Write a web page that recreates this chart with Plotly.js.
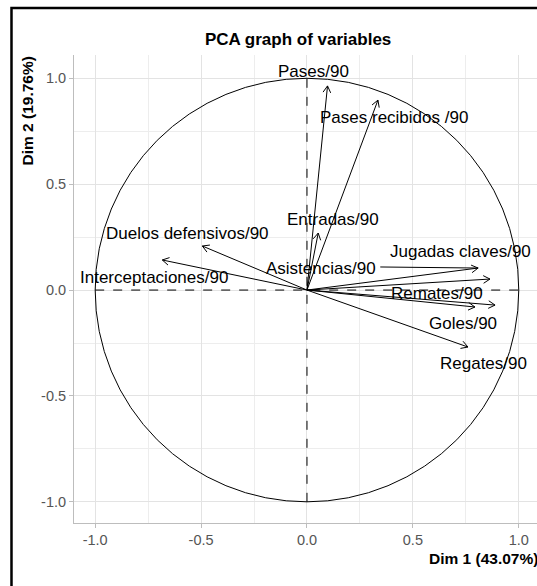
<!DOCTYPE html>
<html>
<head>
<meta charset="utf-8">
<script src="https://cdn.plot.ly/plotly-3.0.1.min.js"></script>
<style>
  html, body { margin: 0; padding: 0; background: #ffffff; }
  #chart { width: 537px; height: 586px; }
</style>
</head>
<body>
<div id="chart"></div>
<script>
// Variables and their coordinates on Dim 1 / Dim 2
const variables = ['Pases/90', 'Pases recibidos /90', 'Entradas/90', 'Asistencias/90', 'Jugadas claves/90',
                   'Remates/90', 'Goles/90', 'Regates/90', 'Duelos defensivos/90', 'Interceptaciones/90'];
const dim1 = [0.097, 0.335, 0.053, 0.808, 0.864, 0.793, 0.888, 0.760, -0.494, -0.683];
const dim2 = [0.964, 0.897, 0.269, 0.104, 0.052, -0.080, -0.071, -0.269, 0.208, 0.142];
// Repelled label positions (data units)
const labelX = [0.030, 0.409, 0.124, 0.067, 0.724, 0.612, 0.735, 0.832, -0.564, -0.720];
const labelY = [1.030, 0.817, 0.331, 0.104, 0.180, -0.014, -0.156, -0.345, 0.269, 0.061];
// Repel segment from the "Asistencias/90" label to its point
const repelFrom = {index: 3, x: 0.346, y: 0.109};
const tickVals = [-1.0, -0.5, 0.0, 0.5, 1.0];
const tickText = ['-1.0', '-0.5', '0.0', '0.5', '1.0'];

const FONT = 'Liberation Sans, Arial, sans-serif';

// arrows: shaft + open head
const ax = [], ay = [];
const headLen = 0.036, headAng = Math.PI / 6;
for (let i = 0; i < variables.length; i++) {
  const tx = dim1[i], ty = dim2[i];
  const th = Math.atan2(ty, tx);
  ax.push(0, tx, null);
  ay.push(0, ty, null);
  ax.push(tx - headLen * Math.cos(th - headAng), tx, tx - headLen * Math.cos(th + headAng), null);
  ay.push(ty - headLen * Math.sin(th - headAng), ty, ty - headLen * Math.sin(th + headAng), null);
}

const traces = [
  {
    type: 'scatter', mode: 'lines', x: ax, y: ay,
    line: {color: '#000000', width: 1}, hoverinfo: 'skip', showlegend: false
  },
  {
    type: 'scatter', mode: 'lines',
    x: [repelFrom.x, dim1[repelFrom.index]], y: [repelFrom.y, dim2[repelFrom.index]],
    line: {color: '#000000', width: 1}, hoverinfo: 'skip', showlegend: false
  }
];

const annotations = variables.map((v, i) => ({
  x: labelX[i], y: labelY[i], xref: 'x', yref: 'y', text: v, showarrow: false,
  font: {family: FONT, size: 17, color: '#000000'}, xanchor: 'center', yanchor: 'middle'
}));

annotations.push({
  xref: 'paper', yref: 'paper', x: -0.1015, y: 1.0, xanchor: 'center', yanchor: 'top',
  text: '<b>Dim 2 (19.76%)</b>', textangle: -90, showarrow: false,
  font: {family: FONT, size: 15.5, color: '#000000'}
});
annotations.push({
  xref: 'paper', yref: 'paper', x: 1.006, y: -0.0748, xanchor: 'right', yanchor: 'middle',
  text: '<b>Dim 1 (43.07%)</b>', showarrow: false,
  font: {family: FONT, size: 15.5, color: '#000000'}
});

const axisCommon = {
  tickvals: tickVals, ticktext: tickText,
  showgrid: true, gridcolor: '#E3E3E3', gridwidth: 1,
  minor: {dtick: 0.25, showgrid: true, gridcolor: '#EDEDED', gridwidth: 1},
  zeroline: false, showline: true, linecolor: '#BDBDBD', linewidth: 1,
  ticks: 'outside', ticklen: 4, tickcolor: '#BDBDBD', tickwidth: 1,
  tickfont: {family: FONT, size: 14.5, color: '#555555'},
  fixedrange: true
};

const layout = {
  width: 537, height: 586,
  margin: {l: 74, r: 0, t: 55, b: 63},
  paper_bgcolor: '#ffffff', plot_bgcolor: '#ffffff',
  title: {
    text: '<b>PCA graph of variables</b>', xref: 'paper', x: 0.484, xanchor: 'center',
    yref: 'container', y: 1 - 39 / 586, yanchor: 'middle',
    font: {family: FONT, size: 17, color: '#000000'}
  },
  xaxis: Object.assign({}, axisCommon, {range: [-1.1, 1.086]}),
  yaxis: Object.assign({}, axisCommon, {range: [-1.1, 1.11]}),
  showlegend: false,
  shapes: [
    {type: 'circle', xref: 'x', yref: 'y', x0: -1, x1: 1, y0: -1, y1: 1,
     line: {color: '#000000', width: 1}, layer: 'above'},
    {type: 'line', xref: 'x', yref: 'y', x0: 0, x1: 0, y0: -1, y1: 1,
     line: {color: '#000000', width: 1, dash: 'dash'}},
    {type: 'line', xref: 'x', yref: 'y', x0: -1, x1: 1, y0: 0, y1: 0,
     line: {color: '#000000', width: 1, dash: 'dash'}},
    {type: 'rect', xref: 'paper', yref: 'paper', x0: -0.135, x1: 1.1, y0: -0.3, y1: 1.1004,
     line: {color: '#000000', width: 2.5}, fillcolor: 'rgba(0,0,0,0)'}
  ],
  annotations: annotations
};

Plotly.newPlot('chart', traces, layout, {displayModeBar: false, staticPlot: true});
</script>
</body>
</html>
